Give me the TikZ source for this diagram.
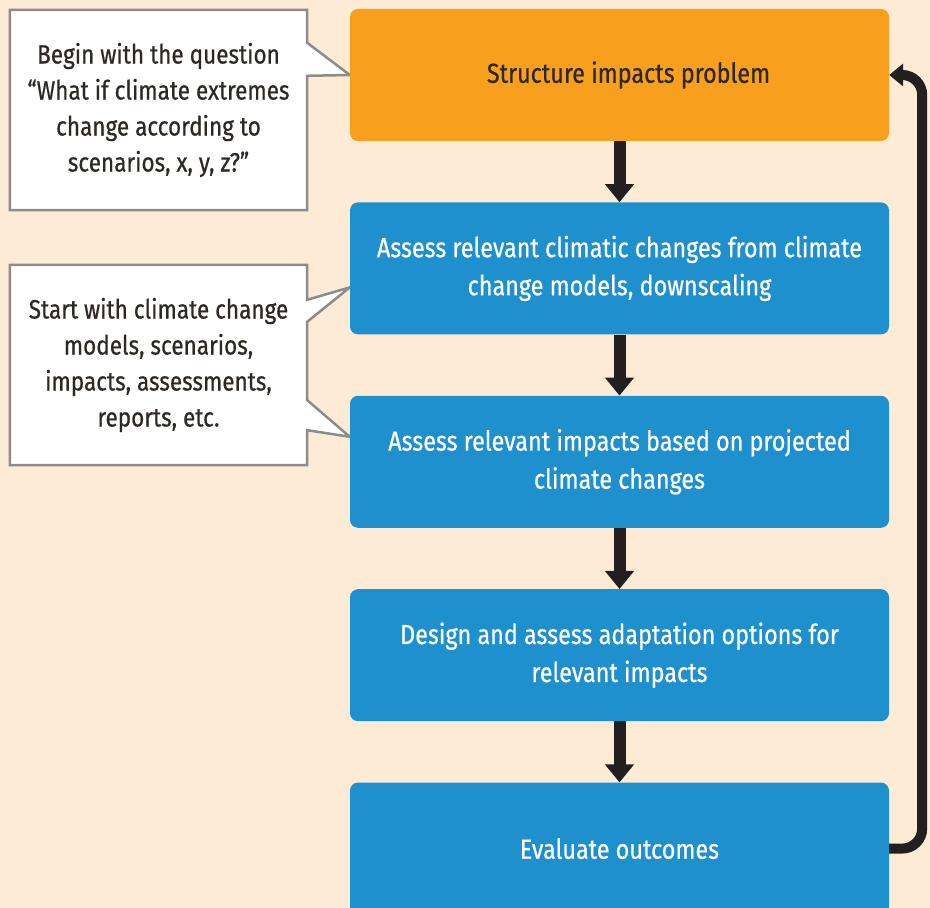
\documentclass[tikz,border=0pt]{standalone}
\usepackage{fontspec}
\setmainfont{Fira Sans}[FakeStretch=0.85, FakeBold=0.6]
\usetikzlibrary{arrows.meta}
\usetikzlibrary{calc}
\usetikzlibrary{positioning}
\usetikzlibrary{backgrounds}

\definecolor{cream}{RGB}{253,235,214}
\definecolor{stageblue}{RGB}{30,144,206}
\definecolor{stageorange}{RGB}{248,160,30}
\definecolor{arrowblack}{RGB}{35,31,32}
\definecolor{notegray}{RGB}{140,140,140}
\definecolor{textdark}{RGB}{45,40,35}

\begin{document}
\begin{tikzpicture}[x = 1pt, y = 1pt, node distance = 61pt,
						stage node/.style = {rectangle, rounded corners = 8pt, minimum width = 539pt, minimum height = 132pt, align = center, fill = stageblue, text = white, font = \fontsize{27.5}{38}\selectfont},
						note node/.style = {rectangle, minimum width = 297pt, minimum height = 200pt, align = center, text = textdark, font = \fontsize{26.5}{36}\selectfont},
						note line/.style = {draw = notegray, fill = white, line width = 2.5pt, line join = miter},
						down arrow/.style = {-{Triangle[width = 28pt, length = 18pt]}, line width = 12pt, draw = arrowblack},
						back arrow/.style = {-{Triangle[width = 22pt, length = 14pt]}, line width = 10pt, draw = arrowblack, rounded corners = 20pt}]
		\useasboundingbox (0,0) rectangle (930,908);

		\node[stage node, fill = stageorange, text = textdark] (s1) at (619.5,833) {\hspace{18pt}Structure impacts problem};
		\node[stage node] (s2) [below = of s1] {Assess relevant climatic changes from climate\\change models, downscaling};
		\node[stage node] (s3) [below = of s2] {Assess relevant impacts based on projected\\climate changes};
		\node[stage node] (s4) [below = of s3] {Design and assess adaptation options for\\relevant impacts};
		\node[stage node] (s5) [below = of s4] {Evaluate outcomes};

		\node[note node] (q1) at (158.5,798) {Begin with the question\\“What if climate extremes\\change according to\\scenarios, x, y, z?”};
		\node[note node] (q2) at (158.5,543) {Start with climate change\\models, scenarios,\\impacts, assessments,\\reports, etc.};

		\foreach \a/\b in {s1/s2, s2/s3, s3/s4, s4/s5}
			\draw[down arrow] (\a.south) -- (\b.north);

		\draw[back arrow] (s5.east) -- ++(33,0) |- (s1.east);

		\begin{scope}[on background layer]
			\fill[cream] (0,0) rectangle (930,908);
			% callout outlines with their pointers
			\path[note line] (q1.north west) -- (q1.north east) -- ($(q1.north east)+(0,-33)$) -- (s1.west)
				-- ($(q1.north east)+(0,-66)$) -- (q1.south east) -- (q1.south west) -- cycle;
			\path[note line] (q2.north west) -- (q2.north east) -- ($(q2.north east)+(0,-35)$) -- ($(s2.west)+(0,-19)$)
				-- ($(q2.north east)+(0,-57)$) -- ($(q2.south east)+(0,65)$) -- ($(s3.west)+(0,25)$)
				-- ($(q2.south east)+(0,35)$) -- (q2.south east) -- (q2.south west) -- cycle;
		\end{scope}

	\end{tikzpicture}
\end{document}
